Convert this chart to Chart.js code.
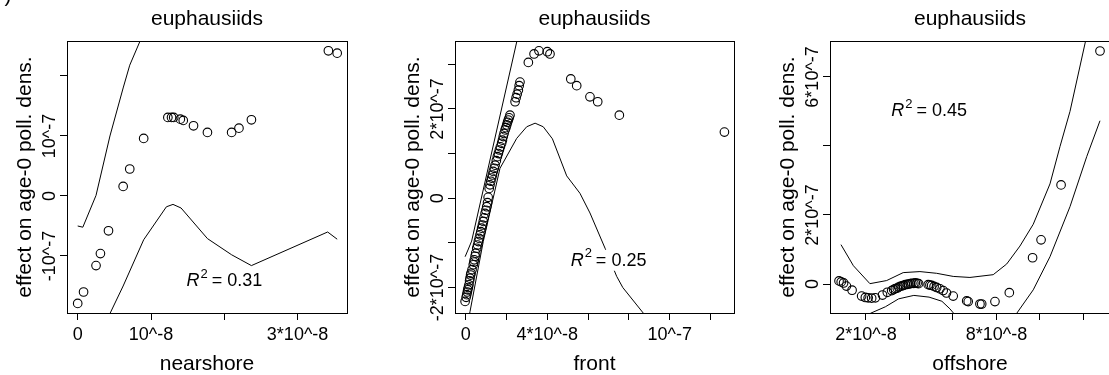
<!DOCTYPE html>
<html>
<head>
<meta charset="utf-8">
<script src="https://cdn.jsdelivr.net/npm/chart.js@4.4.1/dist/chart.umd.min.js"></script>
<style>
html, body { margin: 0; padding: 0; background: #fff; overflow: hidden; }
#wrap { position: relative; width: 1109px; height: 375px; overflow: hidden; }
canvas { position: absolute; top: 0; }
</style>
</head>
<body>
<div id="wrap">
  <canvas id="c1" width="370" height="375" style="left:0"></canvas>
  <canvas id="c2" width="370" height="375" style="left:370px"></canvas>
  <canvas id="c3" width="380" height="375" style="left:740px"></canvas>
</div>
<script>
// x values in units of 10^-8, y values in units of 10^-7

// nearshore
var nearX = [0, 0.08, 0.25, 0.31, 0.42, 0.62, 0.71, 0.9, 1.23, 1.28, 1.31, 1.4, 1.44, 1.58, 1.77, 2.1, 2.2, 2.37, 3.42, 3.54];
var nearY = [-1.79, -1.6, -1.16, -0.96, -0.58, 0.16, 0.45, 0.96, 1.31, 1.31, 1.31, 1.28, 1.26, 1.17, 1.06, 1.06, 1.13, 1.27, 2.42, 2.38];
var nearUpX = [0, 0.07, 0.25, 0.44, 0.62, 0.71, 0.85, 1.0];
var nearUpY = [-0.5, -0.52, 0.01, 1.0, 1.8, 2.18, 2.58, 3.03];
var nearLoX = [0.3, 0.44, 0.62, 0.9, 1.21, 1.3, 1.41, 1.77, 2.1, 2.37, 3.41, 3.54];
var nearLoY = [-2.32, -1.96, -1.5, -0.73, -0.18, -0.14, -0.2, -0.71, -0.98, -1.16, -0.6, -0.72];
var nearXTicks = [0, 1, 2, 3];
var nearXTickLabels = ['0', '10^-8', '', '3*10^-8'];
var nearYTicks = [-1, 0, 1, 2];
var nearYTickLabels = ['-10^-7', '0', '10^-7', ''];

// front
var frontX = [-0.03, 0.02, 0.05, 0.08, 0.1, 0.13, 0.16, 0.19, 0.21, 0.24, 0.26, 0.31, 0.37, 0.4, 0.42, 0.46, 0.49, 0.54, 0.58, 0.62,
  0.66, 0.7, 0.74, 0.78, 0.82, 0.86, 0.9, 0.95, 0.99, 1.03, 1.07, 1.1, 1.15, 1.19, 1.23, 1.27, 1.31, 1.35, 1.4, 1.44,
  1.5, 1.55, 1.6, 1.65, 1.7, 1.76, 1.8, 1.84, 1.88, 1.93, 1.97, 2.01, 2.05, 2.09, 2.13, 2.17,
  2.42, 2.47, 2.52, 2.58, 2.62, 2.66,
  3.07, 3.35, 3.59, 4.0, 4.13, 5.15, 5.44, 6.09, 6.47, 7.53, 12.68];
var frontY = [-2.31, -2.22, -2.16, -2.1, -2.05, -2.0, -1.94, -1.85, -1.79, -1.72, -1.68, -1.6, -1.49, -1.43, -1.38, -1.3, -1.23, -1.12, -1.05, -0.97,
  -0.9, -0.82, -0.75, -0.67, -0.6, -0.52, -0.44, -0.34, -0.27, -0.19, -0.1, 0.02, 0.22, 0.3, 0.38, 0.45, 0.52, 0.6, 0.67, 0.74,
  0.84, 0.93, 1.0, 1.08, 1.15, 1.23, 1.3, 1.38, 1.45, 1.53, 1.58, 1.64, 1.7, 1.75, 1.8, 1.86,
  2.16, 2.25, 2.33, 2.42, 2.52, 2.6,
  3.04, 3.23, 3.3, 3.28, 3.23, 2.67, 2.52, 2.27, 2.16, 1.86, 1.48];
var frontUpX = [-0.03, 0.11, 0.29, 2.5, 2.7];
var frontUpY = [-1.31, -1.16, -0.96, 3.5, 3.88];
var frontLoX = [0.14, 0.21, 0.86, 1.68, 2.5, 2.99, 3.4, 3.8, 4.25, 4.95, 5.6, 6.09, 6.83, 7.4, 7.7, 8.7];
var frontLoY = [-2.72, -2.54, -0.97, 0.67, 1.34, 1.6, 1.68, 1.6, 1.33, 0.5, 0.11, -0.33, -1.12, -1.75, -2.0, -2.57];
var frontXTicks = [0, 2, 4, 6, 8, 10, 12];
var frontXTickLabels = ['0', '', '4*10^-8', '', '', '10^-7', ''];
var frontYTicks = [-2, -1, 0, 1, 2, 3];
var frontYTickLabels = ['-2*10^-7', '', '0', '', '2*10^-7', ''];

// offshore
var offX = [0.76, 0.86, 0.97, 1.1, 1.36, 1.8, 1.97, 2.1, 2.26, 2.43, 2.76, 2.98, 3.18, 3.27, 3.35, 3.44, 3.5, 3.58, 3.66, 3.73,
  3.81, 3.9, 3.96, 4.04, 4.11, 4.2, 4.27, 4.35, 4.42, 4.86, 4.94, 5.02, 5.13, 5.25, 5.4, 5.55, 5.7, 6.01, 6.63, 6.7,
  7.24, 7.32, 7.93, 8.59, 9.66, 10.05, 10.97, 12.76];
var offY = [0.09, 0.06, 0.03, -0.06, -0.18, -0.35, -0.39, -0.4, -0.41, -0.4, -0.32, -0.24, -0.19, -0.16, -0.13, -0.12, -0.09, -0.07, -0.05, -0.04,
  -0.02, -0.01, 0, 0.01, 0.02, 0.02, 0.03, 0.02, 0.01, -0.02, -0.03, -0.04, -0.07, -0.1, -0.14, -0.19, -0.26, -0.35, -0.49, -0.51,
  -0.58, -0.58, -0.51, -0.25, 0.76, 1.28, 2.87, 6.75];
var offUpX = [0.85, 1.42, 2.18, 2.95, 3.71, 4.48, 5.25, 6.01, 6.78, 7.85, 8.47, 9.08, 9.69, 10.46, 10.92, 11.38, 12.1];
var offUpY = [1.14, 0.53, 0.01, 0.1, 0.33, 0.36, 0.31, 0.22, 0.19, 0.27, 0.58, 1.1, 1.73, 2.9, 3.98, 5.0, 7.05];
var offLoX = [1.8, 2.2, 2.89, 3.5, 4.2, 4.9, 5.49, 5.86, 6.1, 7.2, 8.4, 8.93, 9.69, 10.46, 11.38, 12.15, 12.76];
var offLoY = [-1.1, -0.85, -0.66, -0.43, -0.33, -0.38, -0.5, -0.72, -0.9, -1.6, -1.3, -0.85, -0.17, 0.79, 2.24, 3.69, 4.73];
var offXTicks = [2, 4, 6, 8, 10, 12];
var offXTickLabels = ['2*10^-8', '', '', '8*10^-8', '', ''];
var offYTicks = [0, 2, 4, 6];
var offYTickLabels = ['0', '2*10^-7', '', '6*10^-7'];

var FONT = '"Liberation Sans", Arial, Helvetica, sans-serif';

function pairs(xs, ys) {
  return xs.map(function(v, i) { return {x: v, y: ys[i]}; });
}

/* draws the R style frame, labels and R^2 text */
var rPlot = {
  id: 'rPlot',
  afterDraw: function(chart) {
    var o = chart.options.plugins.rPlot;
    var ctx = chart.ctx, a = chart.chartArea;
    var xs = chart.scales.x, ys = chart.scales.y;
    var cx = (a.left + a.right) / 2, cy = (a.top + a.bottom) / 2;
    ctx.save();
    ctx.fillStyle = '#000';
    ctx.textAlign = 'center';
    ctx.textBaseline = 'middle';

    // R^2 label with white box behind it
    var big = '18px ' + FONT, small = '13px ' + FONT;
    ctx.font = 'italic ' + big;
    var wR = ctx.measureText('R').width;
    ctx.font = small;
    var w2 = ctx.measureText('2').width;
    ctx.font = big;
    var rest = ' = ' + o.r2;
    var wRest = ctx.measureText(rest).width;
    var w = wR + w2 + wRest;
    var lx = xs.getPixelForValue(o.r2x) - w / 2, ly = ys.getPixelForValue(o.r2y);
    ctx.fillStyle = '#fff';
    ctx.fillRect(lx - 2, ly - 11, w + 4, 21);
    ctx.fillStyle = '#000';
    ctx.textAlign = 'left';
    ctx.font = 'italic ' + big;
    ctx.fillText('R', lx, ly);
    ctx.font = small;
    ctx.fillText('2', lx + wR + 1, ly - 7);
    ctx.font = big;
    ctx.fillText(rest, lx + wR + w2, ly);

    // frame
    ctx.strokeStyle = '#000';
    ctx.lineWidth = 1;
    ctx.strokeRect(Math.round(a.left) + 0.5, Math.round(a.top) + 0.5,
      Math.round(a.right - a.left), Math.round(a.bottom - a.top));

    // tick labels
    ctx.textAlign = 'center';
    ctx.font = '18px ' + FONT;
    o.xTicks.forEach(function(v, i) {
      if (o.xLabels[i]) ctx.fillText(o.xLabels[i], xs.getPixelForValue(v), 335);
    });
    o.yTicks.forEach(function(v, i) {
      if (!o.yLabels[i]) return;
      ctx.save();
      ctx.translate(a.left - 17, ys.getPixelForValue(v));
      ctx.rotate(-Math.PI / 2);
      ctx.fillText(o.yLabels[i], 0, 0);
      ctx.restore();
    });

    // titles
    ctx.font = '21px ' + FONT;
    ctx.fillText('euphausiids', cx, 19);
    ctx.fillText(o.xTitle, cx, 364);
    ctx.save();
    ctx.translate(a.left - 42, cy);
    ctx.rotate(-Math.PI / 2);
    ctx.fillText('effect on age-0 poll. dens.', 0, 0);
    ctx.restore();

    if (o.corner) ctx.fillText(')', 8, -4);
    ctx.restore();
  }
};

function makePanel(p) {
  var ctx = document.getElementById(p.id).getContext('2d');
  var lineStyle = {showLine: true, borderColor: '#000', borderWidth: 1, pointRadius: 0, tension: 0, fill: false};
  return new Chart(ctx, {
    type: 'scatter',
    data: {
      datasets: [
        {data: pairs(p.px, p.py), pointStyle: 'circle', pointRadius: 4.3, borderColor: '#000',
         backgroundColor: 'rgba(0,0,0,0)', borderWidth: 1.1},
        Object.assign({data: pairs(p.ux, p.uy)}, lineStyle),
        Object.assign({data: pairs(p.lx, p.ly)}, lineStyle)
      ]
    },
    options: {
      responsive: false,
      animation: false,
      devicePixelRatio: 1,
      layout: {padding: {left: 0, right: p.right, top: 41, bottom: 0}},
      plugins: {
        legend: {display: false},
        tooltip: {enabled: false},
        rPlot: {xTitle: p.xTitle, r2: p.r2, r2x: p.r2x, r2y: p.r2y, corner: p.corner,
                xTicks: p.xt, xLabels: p.xtl, yTicks: p.yt, yLabels: p.ytl}
      },
      scales: {
        x: {
          type: 'linear', min: p.xmin, max: p.xmax,
          border: {display: false},
          grid: {drawOnChartArea: false, drawTicks: true, tickLength: 7, color: '#000', lineWidth: 1},
          ticks: {display: false},
          afterBuildTicks: function(s) { s.ticks = p.xt.map(function(v) { return {value: v}; }); },
          afterFit: function(s) { s.height = 62; }
        },
        y: {
          type: 'linear', min: p.ymin, max: p.ymax,
          border: {display: false},
          grid: {drawOnChartArea: false, drawTicks: true, tickLength: 7, color: '#000', lineWidth: 1},
          ticks: {display: false},
          afterBuildTicks: function(s) { s.ticks = p.yt.map(function(v) { return {value: v}; }); },
          afterFit: function(s) { s.width = p.left; }
        }
      }
    },
    plugins: [rPlot]
  });
}

makePanel({id: 'c1', xTitle: 'nearshore', px: nearX, py: nearY, ux: nearUpX, uy: nearUpY, lx: nearLoX, ly: nearLoY,
  xmin: -0.146, xmax: 3.674, ymin: -1.95, ymax: 2.583, xt: nearXTicks, xtl: nearXTickLabels, yt: nearYTicks, ytl: nearYTickLabels,
  r2: '0.31', r2x: 2.0, r2y: -1.42, left: 67, right: 23, corner: true});
makePanel({id: 'c2', xTitle: 'front', px: frontX, py: frontY, ux: frontUpX, uy: frontUpY, lx: frontLoX, ly: frontLoY,
  xmin: -0.525, xmax: 13.15, ymin: -2.57, ymax: 3.52, xt: frontXTicks, xtl: frontXTickLabels, yt: frontYTicks, ytl: frontYTickLabels,
  r2: '0.25', r2x: 7.0, r2y: -1.4, left: 85, right: 6});
makePanel({id: 'c3', xTitle: 'offshore', px: offX, py: offY, ux: offUpX, uy: offUpY, lx: offLoX, ly: offLoY,
  xmin: 0.345, xmax: 13.22, ymin: -0.84, ymax: 7.04, xt: offXTicks, xtl: offXTickLabels, yt: offYTicks, ytl: offYTickLabels,
  r2: '0.45', r2x: 4.9, r2y: 5.01, left: 90, right: 10});
</script>
</body>
</html>
